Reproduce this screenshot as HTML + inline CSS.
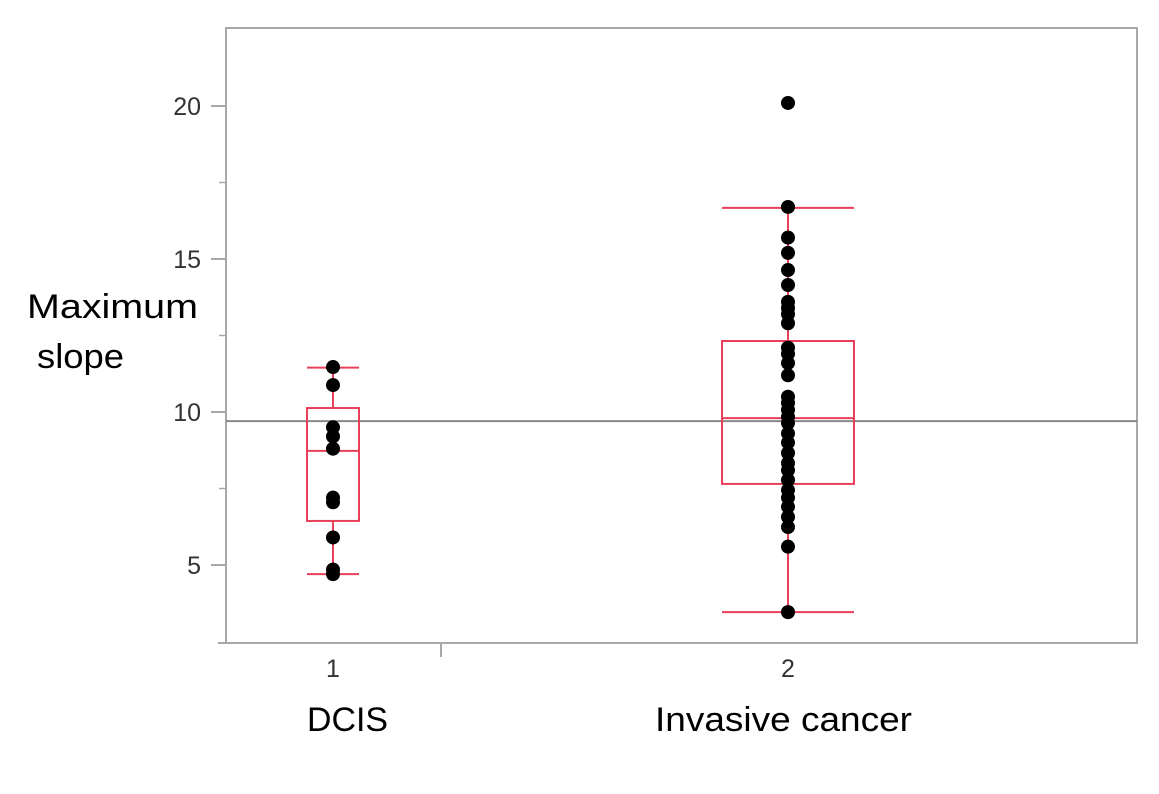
<!DOCTYPE html>
<html><head><meta charset="utf-8"><style>
html,body{margin:0;padding:0;background:#fff;width:1159px;height:794px;overflow:hidden}
svg text{font-family:"Liberation Sans",sans-serif}
</style></head><body>
<svg id="chart" width="1159" height="794" xmlns="http://www.w3.org/2000/svg"></svg>
<script>
const categories = [1, 2];
const categoryNames = ["DCIS", "Invasive cancer"];
const yTicks = [5, 10, 15, 20];
const grandMean = 9.7;
const dcisPoints = [11.47, 10.88, 9.5, 9.2, 8.8, 7.2, 7.05, 5.9, 4.85, 4.7];
const invasivePoints = [20.1, 16.7, 15.7, 15.2, 14.64, 14.15, 13.6, 13.4, 13.2, 12.9, 12.1, 11.9, 11.6, 11.2, 10.5, 10.3, 10.07, 9.84, 9.64, 9.3, 9.0, 8.66, 8.33, 8.1, 7.78, 7.45, 7.2, 6.9, 6.57, 6.24, 5.6, 3.46];
const dcisBox = [4.7, 6.44, 8.73, 10.13, 11.45];      // low whisker, Q1, median, Q3, high whisker
const invasiveBox = [3.46, 7.65, 9.8, 12.32, 16.67];

const svg = document.getElementById('chart');
const NS = 'http://www.w3.org/2000/svg';
const yScale = v => 412 - (v - 10) * 30.6;
const xScale = c => 333 + (c - 1) * 455;
function mk(tag, attrs, name, parent) {
  const e = document.createElementNS(NS, tag);
  for (const k in attrs) e.setAttribute(k, attrs[k]);
  
  
  (parent || svg).appendChild(e);
  return e;
}
// frame
mk('rect', {x:226, y:28, width:911, height:615, fill:'none', stroke:'#a8a8a8', 'stroke-width':2}, 'plot-frame');
mk('line', {x1:218, y1:643, x2:1137, y2:643, stroke:'#a8a8a8', 'stroke-width':2}, 'x-axis-line');
mk('line', {x1:441, y1:643, x2:441, y2:657, stroke:'#a8a8a8', 'stroke-width':2}, 'x-axis-divider-tick');
// y ticks
yTicks.forEach(t => {
  const y = yScale(t);
  mk('line', {x1:211, y1:y, x2:226, y2:y, stroke:'#a8a8a8', 'stroke-width':2}, 'y-tick-' + t);
  const tx = mk('text', {x:201, y:y + 9, 'text-anchor':'end', 'font-size':25, fill:'#333'}, 'y-tick-label-' + t);
  tx.textContent = t;
});
// minor ticks
[7.5, 12.5, 17.5].forEach(t => {
  const y = yScale(t);
  mk('line', {x1:219, y1:y, x2:226, y2:y, stroke:'#a8a8a8', 'stroke-width':1.5}, 'y-minor-tick');
});
// grand mean line
mk('line', {x1:226, y1:yScale(grandMean), x2:1137, y2:yScale(grandMean), stroke:'#888', 'stroke-width':2}, 'grand-mean-line');
// boxes
const boxes = [dcisBox, invasiveBox];
const halfW = [26, 66];
const nameX = [307, 655], nameW = [81, 257];
categories.forEach((c, i) => {
  const b = boxes[i], cx = xScale(c), hw = halfW[i];
  const g = mk('g', {}, 'box-' + categoryNames[i].toLowerCase().replace(/\s+/g, '-'));
  const red = '#e8405a';
  mk('line', {x1:cx, y1:yScale(b[0]), x2:cx, y2:yScale(b[1]), stroke:red, 'stroke-width':2}, 'lower-whisker', g);
  mk('line', {x1:cx, y1:yScale(b[3]), x2:cx, y2:yScale(b[4]), stroke:red, 'stroke-width':2}, 'upper-whisker', g);
  mk('line', {x1:cx - hw, y1:yScale(b[0]), x2:cx + hw, y2:yScale(b[0]), stroke:red, 'stroke-width':2}, 'lower-cap', g);
  mk('line', {x1:cx - hw, y1:yScale(b[4]), x2:cx + hw, y2:yScale(b[4]), stroke:red, 'stroke-width':2}, 'upper-cap', g);
  mk('rect', {x:cx - hw, y:yScale(b[3]), width:2 * hw, height:yScale(b[1]) - yScale(b[3]), fill:'none', stroke:red, 'stroke-width':2}, 'iqr-box', g);
  mk('line', {x1:cx - hw, y1:yScale(b[2]), x2:cx + hw, y2:yScale(b[2]), stroke:red, 'stroke-width':2}, 'median-line', g);
  const lbl = mk('text', {x:cx, y:677, 'text-anchor':'middle', 'font-size':25, fill:'#333'}, 'x-tick-label-' + c);
  lbl.textContent = c;
  const nm = mk('text', {x:nameX[i], y:731, 'font-size':34, fill:'#000', textLength:nameW[i], lengthAdjust:'spacingAndGlyphs'}, 'category-name-' + c);
  nm.textContent = categoryNames[i];
});
// points
[dcisPoints, invasivePoints].forEach((pts, i) => {
  pts.forEach(v => {
    mk('circle', {cx:xScale(categories[i]), cy:yScale(v), r:7, fill:'#000'}, 'data-point');
  });
});
// y axis title
const t1 = mk('text', {x:27, y:318, 'font-size':34, fill:'#000', textLength:171, lengthAdjust:'spacingAndGlyphs'}, 'y-axis-title-line1');
t1.textContent = 'Maximum';
const t2 = mk('text', {x:37, y:368, 'font-size':34, fill:'#000', textLength:87, lengthAdjust:'spacingAndGlyphs'}, 'y-axis-title-line2');
t2.textContent = 'slope';
</script>
</body></html>
